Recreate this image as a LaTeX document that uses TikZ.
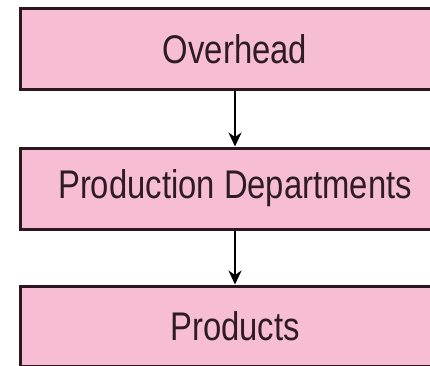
\documentclass[tikz,border=0pt]{standalone}
\usepackage{fontspec}
\usetikzlibrary{arrows.meta,positioning}
\newfontfamily\boxfont[FakeStretch=0.82]{Liberation Sans}
\definecolor{rose}{HTML}{F6BDD5}
\definecolor{edge}{HTML}{2B1621}
\definecolor{ink}{HTML}{2E1B26}

\begin{document}
\begin{tikzpicture}[x=1pt,y=1pt,
                    bx/.style={draw=edge,fill=rose,line width=3pt,minimum width=430pt,minimum height=80pt,
                               inner sep=0pt,text=ink,font=\boxfont\fontsize{40}{44}\selectfont},
                    fl/.style={-{Stealth[length=14pt,width=13pt]},line width=2.5pt,color=black}]
  \useasboundingbox (0,0) rectangle (430,365);
  \clip (0,0) rectangle (430,365);
  \node[bx] (ovh) at (235,316) {Overhead};
  \node[bx,minimum height=81pt] (dep) at (235,176.5) {Production Departments};
  \node[bx] (prd) at (235,39) {Products};
  % cost flow downwards
  \draw[fl] (ovh.south) -- (dep.north);
  \draw[fl] (dep.south) -- (prd.north);
\end{tikzpicture}
\end{document}
